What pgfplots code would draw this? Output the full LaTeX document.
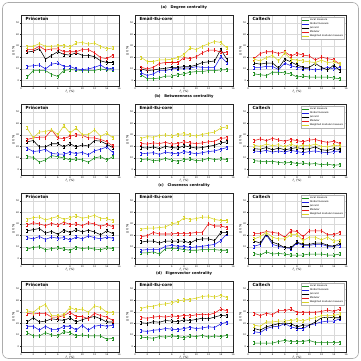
\documentclass[border=0pt]{standalone}
\usepackage{fontspec}
\setmainfont{DejaVu Sans}
\usepackage{pgfplots}
\usepackage{pgfplotstable}
\pgfplotsset{compat=1.18}

\definecolor{cL}{RGB}{30,140,30}
\definecolor{cG}{RGB}{30,30,225}
\definecolor{cJ}{RGB}{0,0,0}
\definecolor{cM}{RGB}{230,25,25}
\definecolor{cW}{RGB}{215,210,40}

% columns: x, Local, Global, Jaccard, Modular, Weighted modular
\pgfplotstableread{
x L G J M W
1 2.8 12.1 24.6 26.8 29.7
2 8.5 12.7 25.4 26.8 29.7
3 8.5 13.3 27.7 29.7 32.0
4 8.5 9.9 18.4 26.3 29.7
5 5.1 14.1 21.8 27.4 29.7
6 3.4 15.0 24.9 27.4 30.2
7 8.5 12.1 22.6 24.9 30.5
8 9.3 12.1 22.0 24.9 29.0
9 9.0 9.9 24.0 24.9 32.5
10 8.5 9.3 21.8 26.8 33.0
11 8.5 9.9 21.8 26.8 31.6
12 8.5 11.3 20.6 24.0 32.5
13 9.9 13.3 17.0 19.8 29.7
14 9.0 9.9 15.5 18.9 27.4
15 9.0 10.5 15.5 21.8 28.2
}\degP
\pgfplotstableread{
x L G J M W
1 4.8 6.5 9.9 11.3 20.0
2 1.4 4.2 8.5 9.9 16.4
3 1.4 5.6 9.0 11.3 16.4
4 2.0 8.5 9.9 14.7 17.8
5 3.7 8.5 10.5 15.5 17.8
6 3.7 9.9 11.3 15.5 18.4
7 4.8 10.5 11.3 15.5 19.8
8 5.6 10.7 11.9 19.8 22.6
9 7.0 10.7 11.9 18.9 28.2
10 7.6 11.9 13.3 20.6 26.8
11 7.6 11.3 15.5 24.0 29.7
12 8.5 11.3 16.1 26.3 31.9
13 8.5 11.3 16.9 26.3 33.9
14 9.0 20.6 26.8 24.6 33.0
15 9.3 15.5 18.4 24.0 28.2
}\degE
\pgfplotstableread{
x L G J M W
1 5.6 11.3 15.0 18.9 18.4
2 4.8 11.3 14.1 23.4 16.9
3 4.2 12.1 15.0 24.9 19.8
4 7.0 12.1 15.0 24.9 21.8
5 7.0 9.3 10.7 23.4 16.9
6 6.5 15.0 18.4 24.9 24.0
7 5.6 12.7 16.1 21.2 18.4
8 2.8 11.3 13.3 23.4 17.5
9 3.7 10.5 11.3 22.0 16.9
10 2.8 9.9 11.3 21.2 16.1
11 2.8 9.0 14.7 17.8 15.5
12 2.8 9.9 11.3 20.3 17.5
13 2.8 11.3 9.0 18.9 15.5
14 2.0 9.9 13.3 17.8 16.1
15 1.4 11.3 8.5 14.1 14.1
}\degC
\pgfplotstableread{
x L G J M W
1 11.0 18.4 24.0 26.0 35.9
2 10.5 15.5 25.1 27.4 27.4
3 6.2 16.1 19.5 28.0 32.5
4 8.2 17.5 19.5 28.0 33.0
5 11.9 13.8 22.3 34.5 34.5
6 11.0 13.3 22.3 27.4 30.2
7 9.9 13.3 19.5 26.8 38.1
8 8.2 14.7 22.3 28.8 31.6
9 9.0 13.8 19.5 30.2 35.9
10 8.2 14.7 21.2 29.7 30.2
11 6.2 12.7 20.3 27.4 30.2
12 9.9 16.1 25.1 27.4 34.5
13 11.0 17.5 24.6 26.0 28.8
14 8.2 19.5 21.8 24.0 31.6
15 11.0 14.7 18.9 20.3 27.4
}\betP
\pgfplotstableread{
x L G J M W
1 8.5 13.5 19.0 22.5 27.0
2 9.0 14.0 18.5 22.0 28.5
3 7.5 14.5 19.5 23.0 28.0
4 8.0 13.0 18.0 22.5 29.5
5 9.5 15.0 20.0 23.5 30.0
6 8.0 14.0 19.0 22.0 29.0
7 7.0 13.5 18.5 22.5 30.5
8 8.5 15.5 20.5 24.0 31.0
9 9.0 14.5 19.5 23.0 30.0
10 7.5 13.5 18.5 22.5 29.0
11 8.0 14.5 19.0 23.0 30.5
12 9.5 15.5 20.0 24.0 31.5
13 8.5 16.0 21.0 24.5 32.5
14 9.0 17.5 23.0 27.0 36.0
15 8.5 19.0 24.0 27.5 37.0
}\betE
\pgfplotstableread{
x L G J M W
1 7.5 16.0 18.0 25.0 21.0
2 7.0 15.5 17.5 26.5 20.0
3 6.5 16.5 19.0 25.0 22.0
4 7.0 15.0 17.0 27.0 20.5
5 6.0 16.0 18.5 25.5 21.5
6 5.5 15.0 17.0 24.5 19.5
7 6.0 16.5 18.0 26.0 22.0
8 5.0 15.5 19.0 25.0 20.0
9 5.5 14.5 17.5 24.0 21.0
10 4.5 15.5 18.0 25.5 20.5
11 5.0 16.0 19.5 26.0 22.0
12 4.0 15.0 17.0 24.5 20.0
13 4.5 14.5 16.5 23.5 19.5
14 3.5 15.5 18.0 24.5 21.0
15 4.0 16.0 17.0 22.5 20.5
}\betC
\pgfplotstableread{
x L G J M W
1 8.0 18.0 24.0 29.0 34.0
2 9.5 17.0 25.0 31.0 35.5
3 10.0 19.0 26.0 30.0 36.0
4 7.5 16.5 22.0 28.5 33.5
5 8.5 18.5 23.5 30.5 35.0
6 9.0 17.5 21.0 29.0 36.5
7 8.0 18.0 24.5 31.5 34.0
8 7.0 16.0 22.5 29.5 35.5
9 9.5 18.5 25.0 30.0 37.0
10 8.5 17.0 23.0 28.5 35.0
11 9.0 19.5 24.5 31.0 36.0
12 8.0 18.0 23.0 30.0 37.5
13 7.5 17.0 20.5 28.0 35.0
14 9.0 18.5 24.0 29.5 34.5
15 8.5 17.5 21.5 27.5 33.0
}\cloP
\pgfplotstableread{
x L G J M W
1 4.8 7.0 14.1 18.9 25.4
2 4.8 7.6 15.0 19.8 26.3
3 5.6 7.6 15.0 22.6 26.3
4 3.7 7.6 13.3 21.2 26.8
5 8.5 10.5 15.0 21.2 27.4
6 8.5 11.3 15.0 21.2 30.2
7 8.5 10.5 15.0 21.8 31.1
8 7.6 10.5 15.0 21.8 35.3
9 7.0 9.3 13.3 21.8 33.9
10 7.0 9.9 16.1 22.6 34.7
11 7.6 10.5 16.9 22.6 35.9
12 7.6 11.3 16.9 30.2 35.9
13 7.6 12.1 15.5 28.2 33.9
14 7.0 15.5 22.6 28.2 33.0
15 7.0 21.2 22.6 26.8 33.0
}\cloE
\pgfplotstableread{
x L G J M W
1 4.2 10.5 15.0 21.8 16.9
2 2.8 12.1 13.3 21.8 18.9
3 5.6 20.6 21.2 23.4 22.6
4 3.7 12.1 14.1 22.6 18.4
5 4.2 10.5 12.1 21.8 16.9
6 3.7 9.3 9.3 18.4 16.9
7 2.8 8.5 9.3 24.0 20.6
8 2.8 13.3 14.1 23.4 20.6
9 2.8 11.3 12.1 18.9 15.5
10 3.7 11.3 12.1 24.0 18.4
11 3.7 12.1 13.3 24.0 18.4
12 3.7 12.1 13.3 24.0 16.1
13 2.8 10.5 11.3 20.6 18.4
14 2.8 10.5 10.5 20.6 15.0
15 3.7 11.3 13.3 22.6 15.5
}\cloC
\pgfplotstableread{
x L G J M W
1 11.9 17.5 21.2 28.8 31.0
2 9.0 17.5 24.9 28.2 29.7
3 9.0 14.1 21.2 28.8 33.9
4 11.9 17.5 22.0 28.8 36.7
5 9.9 14.7 24.0 25.4 26.8
6 9.0 14.7 23.2 25.4 26.8
7 12.7 17.5 22.6 26.8 27.7
8 11.9 17.5 24.9 29.7 33.9
9 9.0 14.1 21.2 26.0 31.6
10 9.9 18.4 23.2 26.0 32.5
11 9.0 14.1 24.9 24.0 29.7
12 9.0 17.5 26.0 28.8 35.3
13 9.0 18.4 24.0 26.8 33.9
14 6.2 17.5 21.2 25.4 29.7
15 7.0 18.4 21.2 22.6 29.7
}\eigP
\pgfplotstableread{
x L G J M W
1 8.0 13.5 20.5 25.0 33.0
2 7.5 13.0 20.0 24.5 34.5
3 7.0 14.0 21.5 25.5 35.0
4 8.5 14.5 21.0 26.0 36.5
5 8.0 15.5 22.5 25.5 37.0
6 9.0 15.0 22.0 26.5 38.0
7 8.5 14.5 21.5 26.0 39.5
8 7.5 15.5 23.0 27.0 40.5
9 9.0 16.5 22.5 26.5 41.0
10 8.5 15.5 23.5 27.5 42.0
11 9.5 16.0 24.5 28.0 43.5
12 8.0 17.0 24.0 27.5 44.0
13 9.0 16.5 25.5 29.0 43.0
14 8.5 19.5 27.0 32.5 44.5
15 9.5 21.0 26.5 31.0 42.5
}\eigE
\pgfplotstableread{
x L G J M W
1 2.8 12.7 15.5 28.8 18.4
2 2.8 11.9 14.1 26.8 17.5
3 2.8 15.5 17.0 28.8 21.2
4 2.8 17.0 18.4 27.7 21.2
5 4.2 17.5 19.8 31.1 22.0
6 5.1 19.8 20.3 31.1 22.0
7 4.2 17.0 19.8 32.5 22.6
8 4.2 15.5 17.0 29.7 23.2
9 4.2 15.5 18.4 29.7 22.0
10 5.1 18.4 18.4 29.7 24.0
11 3.4 19.8 21.2 29.7 24.9
12 3.4 21.2 24.9 30.5 26.8
13 3.4 22.0 25.4 31.6 26.8
14 3.4 22.0 24.9 30.5 26.8
15 3.4 24.0 24.9 32.5 28.2
}\eigC

\pgfplotsset{
  panel/.style={
    scale only axis, width=98pt, height=71pt,
    xmin=0, xmax=16, ymin=-5, ymax=57,
    xtick={0,2,...,16}, ytick={0,10,...,50},
    grid=major, grid style={gray!30, line width=0.3pt},
    axis line style={line width=0.45pt, black!85},
    tick style={black!85, line width=0.3pt},
    major tick length=1.2pt, tick align=outside, tick pos=left,
    tick label style={font=\fontsize{2.3}{2.5}\selectfont, inner sep=0.5pt},
    /pgf/number format/assume math mode=true,
    xlabel={\textit{f}\textsubscript{r} (\%)},
    ylabel={Δ\textit{I} (\%)},
    label style={font=\fontsize{3}{3.4}\selectfont},
    xlabel style={inner sep=0.4pt, yshift=0.8pt},
    ylabel style={inner sep=0.8pt},
    title style={font=\bfseries\fontsize{3.7}{4}\selectfont, inner sep=0.4pt, yshift=-1pt},
    legend image code/.code={\draw[#1, line width=0.5pt] (0pt,0pt) -- (7pt,0pt);},
  },
  series/.style={line width=0.55pt, color=#1, mark=none,
    error bars/.cd, y dir=both, y fixed=1.3,
    error bar style={line width=0.35pt},
    error mark options={rotate=90, mark size=0.7pt, line width=0.35pt}},
  withlegend/.style={
    legend entries={Local measure, Global measure, Jaccard, Modular, Weighted modular measure},
    legend cell align=left,
    legend style={at={(0.985,0.97)}, anchor=north east,
      font=\fontsize{2.4}{2.7}\selectfont, draw=gray!60, line width=0.3pt,
      inner sep=0.8pt, row sep=-0.3pt, nodes={inner sep=0.45pt}, fill=white},
  },
}

% the five strategies of one panel
\newcommand{\drawpanel}[2]{%
  \addplot[series=cL] table[x=x, y=L]{#1};
  \addplot[series=cG] table[x=x, y=G]{#1};
  \addplot[series=cJ] table[x=x, y=J]{#1};
  \addplot[series=cM] table[x=x, y=M]{#1};
  \addplot[series=cW] table[x=x, y=W]{#1};
  \node[anchor=north west, font=\bfseries\fontsize{4.2}{4.6}\selectfont, inner sep=0.5pt]
    at (rel axis cs:0.04,0.975) {#2};
}

\begin{document}
\begin{tikzpicture}
\useasboundingbox (0pt,0pt) rectangle (361pt,361pt);
\draw[gray!65, line width=0.6pt, rounded corners=6pt] (2.5pt,2.5pt) rectangle (358.5pt,358.5pt);

% (a) degree centrality
\begin{axis}[panel, at={(21pt,346pt)}, anchor=north west]
  \drawpanel{\degP}{Princeton}
\end{axis}
\begin{axis}[panel, at={(135pt,346pt)}, anchor=north west, title={(a)\quad Degree centrality}]
  \drawpanel{\degE}{Email-Eu-core}
\end{axis}
\begin{axis}[panel, withlegend, at={(248pt,346pt)}, anchor=north west]
  \drawpanel{\degC}{Caltech}
\end{axis}

% (b) betweenness centrality
\begin{axis}[panel, at={(21pt,257pt)}, anchor=north west]
  \drawpanel{\betP}{Princeton}
\end{axis}
\begin{axis}[panel, at={(135pt,257pt)}, anchor=north west, title={(b)\quad Betweenness centrality}]
  \drawpanel{\betE}{Email-Eu-core}
\end{axis}
\begin{axis}[panel, withlegend, at={(248pt,257pt)}, anchor=north west]
  \drawpanel{\betC}{Caltech}
\end{axis}

% (c) closeness centrality
\begin{axis}[panel, at={(21pt,168pt)}, anchor=north west]
  \drawpanel{\cloP}{Princeton}
\end{axis}
\begin{axis}[panel, at={(135pt,168pt)}, anchor=north west, title={(c)\quad Closeness centrality}]
  \drawpanel{\cloE}{Email-Eu-core}
\end{axis}
\begin{axis}[panel, withlegend, at={(248pt,168pt)}, anchor=north west]
  \drawpanel{\cloC}{Caltech}
\end{axis}

% (d) eigenvector centrality
\begin{axis}[panel, at={(21pt,80pt)}, anchor=north west]
  \drawpanel{\eigP}{Princeton}
\end{axis}
\begin{axis}[panel, at={(135pt,80pt)}, anchor=north west, title={(d)\quad Eigenvector centrality}]
  \drawpanel{\eigE}{Email-Eu-core}
\end{axis}
\begin{axis}[panel, withlegend, at={(248pt,80pt)}, anchor=north west]
  \drawpanel{\eigC}{Caltech}
\end{axis}
\end{tikzpicture}
\end{document}
